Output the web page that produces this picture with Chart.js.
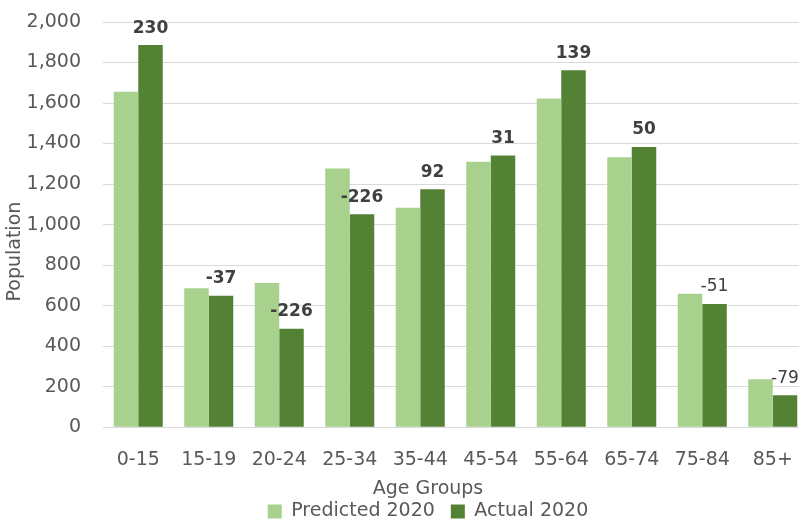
<!DOCTYPE html>
<html>
<head>
<meta charset="utf-8">
<script src="https://cdn.jsdelivr.net/npm/chart.js@4.4.1/dist/chart.umd.min.js"></script>
<style>
  html, body { margin: 0; padding: 0; background: #fff; overflow: hidden; }
  #wrap { width: 856px; height: 521px; }
</style>
</head>
<body>
<div id="wrap"><canvas id="chart"></canvas></div>
<script>
const ageGroups = ['0-15', '15-19', '20-24', '25-34', '35-44', '45-54', '55-64', '65-74', '75-84', '85+']
const predicted2020 = [1656, 686, 712, 1277, 1083, 1310, 1623, 1333, 659, 237]
const actual2020 = [1886, 649, 486, 1051, 1175, 1341, 1762, 1383, 608, 158]
const diffLabels = ['230', '-37', '-226', '-226', '92', '31', '139', '50', '-51', '-79']
const yMin = 0
const yMax = 2000
const yStep = 200

const FONT = '"DejaVu Sans", sans-serif'
const GREY = '#595959'

// difference labels above the Actual bars
const diffLabelPlugin = {
  id: 'diffLabels',
  afterDatasetsDraw(chart) {
    const { ctx } = chart
    const meta = chart.getDatasetMeta(1)
    ctx.save()
    ctx.fillStyle = '#404040'
    ctx.textAlign = 'center'
    ctx.textBaseline = 'middle'
    meta.data.forEach((bar, i) => {
      const weight = i >= 8 ? 'normal' : 'bold'
      ctx.font = `${weight} 17px ${FONT}`
      ctx.fillText(diffLabels[i], bar.x, bar.y - 17)
    })
    ctx.restore()
  }
}

// y axis title, sits a bit lower than the axis centre like the original
const yTitlePlugin = {
  id: 'yTitle',
  afterDraw(chart) {
    const { ctx, chartArea } = chart
    const cy = (chartArea.top + chartArea.bottom) / 2 + 27
    ctx.save()
    ctx.translate(15, cy)
    ctx.rotate(-Math.PI / 2)
    ctx.font = `19px ${FONT}`
    ctx.fillStyle = GREY
    ctx.textAlign = 'center'
    ctx.textBaseline = 'middle'
    ctx.fillText('Population', 0, 0)
    ctx.restore()
  }
}

new Chart(document.getElementById('chart'), {
  type: 'bar',
  data: {
    labels: ageGroups,
    datasets: [
      {
        label: 'Predicted 2020',
        data: predicted2020,
        backgroundColor: '#A9D18E',
        categoryPercentage: 0.695,
        barPercentage: 1,
      },
      {
        label: 'Actual 2020',
        data: actual2020,
        backgroundColor: '#548235',
        categoryPercentage: 0.695,
        barPercentage: 1,
      }
    ]
  },
  options: {
    responsive: true,
    maintainAspectRatio: false,
    animation: false,
    layout: { padding: { left: 0, right: 0, top: 22, bottom: -10 } },
    scales: {
      x: {
        grid: { display: false },
        border: { display: false },
        ticks: {
          color: GREY,
          font: { family: FONT, size: 19 },
          padding: 13,
          maxRotation: 0,
          autoSkip: false,
        },
        afterFit: (scale) => { scale.height = 50 }
      },
      y: {
        min: yMin,
        max: yMax,
        grid: { color: '#D9D9D9', lineWidth: 1, drawTicks: true, tickLength: 22, tickColor: 'rgba(0,0,0,0)' },
        border: { display: false },
        ticks: {
          stepSize: yStep,
          color: GREY,
          font: { family: FONT, size: 19 },
          padding: 0,
          callback: (v) => v.toLocaleString('en-US')
        },
        afterFit: (scale) => { scale.width = 103 }
      },
      // empty right-hand spacer: the original chart runs past the right edge
      spacer: {
        type: 'linear',
        position: 'right',
        grid: { display: false },
        border: { display: false },
        ticks: { display: false },
        afterFit: (scale) => { scale.width = 48 }
      }
    },
    plugins: {
      title: {
        display: true,
        text: 'Age Groups',
        position: 'bottom',
        weight: 500,
        color: GREY,
        font: { family: FONT, size: 19, weight: 'normal' },
        padding: { top: 0, bottom: -14 }
      },
      legend: {
        position: 'bottom',
        labels: {
          color: GREY,
          font: { family: FONT, size: 19 },
          boxWidth: 14,
          boxHeight: 14,
          padding: 16,
        }
      },
      tooltip: { enabled: false }
    }
  },
  plugins: [diffLabelPlugin, yTitlePlugin]
})
</script>
</body>
</html>
